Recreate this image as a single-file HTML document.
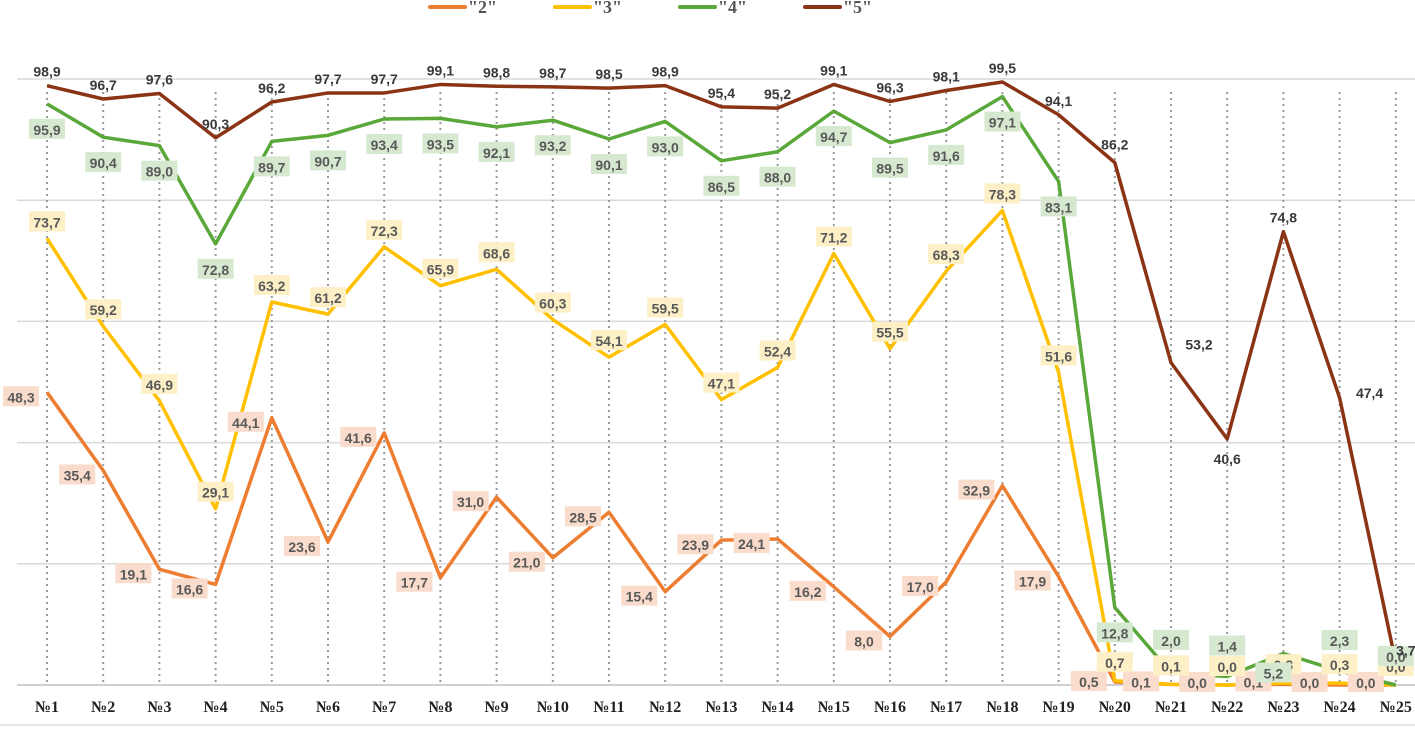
<!DOCTYPE html>
<html><head><meta charset="utf-8"><style>
body{margin:0;background:#fff;}
svg{display:block;}
</style></head><body>
<svg id="chart" width="1415" height="729" xmlns="http://www.w3.org/2000/svg"></svg>
<script>
const categories=["№1","№2","№3","№4","№5","№6","№7","№8","№9","№10","№11","№12","№13","№14","№15","№16","№17","№18","№19","№20","№21","№22","№23","№24","№25"];
const s2=[48.3,35.4,19.1,16.6,44.1,23.6,41.6,17.7,31.0,21.0,28.5,15.4,23.9,24.1,16.2,8.0,17.0,32.9,17.9,0.5,0.1,0.0,0.1,0.0,0.0];
const s3=[73.7,59.2,46.9,29.1,63.2,61.2,72.3,65.9,68.6,60.3,54.1,59.5,47.1,52.4,71.2,55.5,68.3,78.3,51.6,0.7,0.1,0.0,0.3,0.3,0.0];
const s4=[95.9,90.4,89.0,72.8,89.7,90.7,93.4,93.5,92.1,93.2,90.1,93.0,86.5,88.0,94.7,89.5,91.6,97.1,83.1,12.8,2.0,1.4,5.2,2.3,0.0];
const s5=[98.9,96.7,97.6,90.3,96.2,97.7,97.7,99.1,98.8,98.7,98.5,98.9,95.4,95.2,99.1,96.3,98.1,99.5,94.1,86.2,53.2,40.6,74.8,47.4,3.7];
const yTicks=[0,20,40,60,80,100];
const seriesNames=['"2"','"3"','"4"','"5"'];

const svg=document.getElementById('chart');
const NS='http://www.w3.org/2000/svg';
const x=i=>47+i*56.2;
const y=v=>685-v*6.06;
function mk(tag,attrs,parent){const e=document.createElementNS(NS,tag);for(const k in attrs)e.setAttribute(k,attrs[k]);(parent||svg).appendChild(e);return e;}
const fmt=v=>v.toFixed(1).replace('.',',');

yTicks.forEach(t=>{
  const g=mk('line',{x1:17,x2:1415,y1:y(t),y2:y(t),stroke:t===0?'#bfbfbf':'#d9d9d9','stroke-width':1.5});
  
  
});
mk('line',{x1:0,x2:1415,y1:725,y2:725,stroke:'#e6e6e6','stroke-width':2});
categories.forEach((c,i)=>{
  const l=mk('line',{x1:x(i),x2:x(i),y1:92,y2:685,stroke:'#9a9a9a','stroke-width':2,'stroke-dasharray':'2 4'});
  
  
  const t=mk('text',{x:x(i),y:712,'text-anchor':'middle','font-family':'Liberation Serif, serif','font-weight':'bold','font-size':16,fill:'#222'});
  t.textContent=c;
  
  
});

const ov2={19:[-26,0],20:[-30,-2],21:[-30,-2],22:[-30,-2],23:[-30,-2],24:[-30,-2]};
const ov3={19:[0,-18],20:[0,-18],21:[0,-18],22:[0,-18],23:[0,-18],24:[0,-18]};
const ov4={19:[0,26],20:[0,-32],21:[0,-30],22:[-10,20],23:[0,-30],24:[0,-28]};
const ov5={18:[0,-14],19:[0,-18],20:[28,-18],21:[0,20],23:[30,-5],24:[10,-12]};
const series=[
 {d:s2,c:'#ed7d31',bg:'#f9dccb',dx:-26,dy:5,ov:ov2,name:'series-2'},
 {d:s3,c:'#ffc000',bg:'#fdf0c6',dx:0,dy:-16,ov:ov3,name:'series-3'},
 {d:s4,c:'#5aa83a',bg:'#d6e9d0',dx:0,dy:26,ov:ov4,name:'series-4'},
 {d:s5,c:'#8b3415',bg:null,dx:0,dy:-14,ov:ov5,name:'series-5'}
];
series.forEach(s=>{
  const p=mk('polyline',{points:s.d.map((v,i)=>x(i)+','+y(v)).join(' '),fill:'none',stroke:s.c,'stroke-width':3.5,'stroke-linejoin':'round'});
  
  
});
series.forEach(s=>{
  s.d.forEach((v,i)=>{
    const o=s.ov[i]||[s.dx,s.dy];
    const lx=x(i)+o[0], ly=y(v)+o[1];
    if(s.bg){
      const r=mk('rect',{x:lx-18,y:ly-11,width:36,height:20,fill:s.bg});
      
      
    }
    const t=mk('text',{x:lx,y:ly+5,'text-anchor':'middle','font-family':'Liberation Sans, sans-serif','font-weight':'bold','font-size':14,fill:s.bg?'#595959':'#3a3a3a'});
    t.textContent=fmt(v);
    
    
  });
});
const lc=['#ed7d31','#ffc000','#5aa83a','#8b3415'];
seriesNames.forEach((n,i)=>{
  const lx=430+i*125;
  const l=mk('line',{x1:lx,x2:lx+35,y1:7,y2:7,stroke:lc[i],'stroke-width':4,'stroke-linecap':'round'});
  
  
  const t=mk('text',{x:lx+38,y:13,'font-family':'Liberation Serif, serif','font-weight':'bold','font-size':18,fill:'#555'});
  t.textContent=n;
  
  
});
</script>
</body></html>
